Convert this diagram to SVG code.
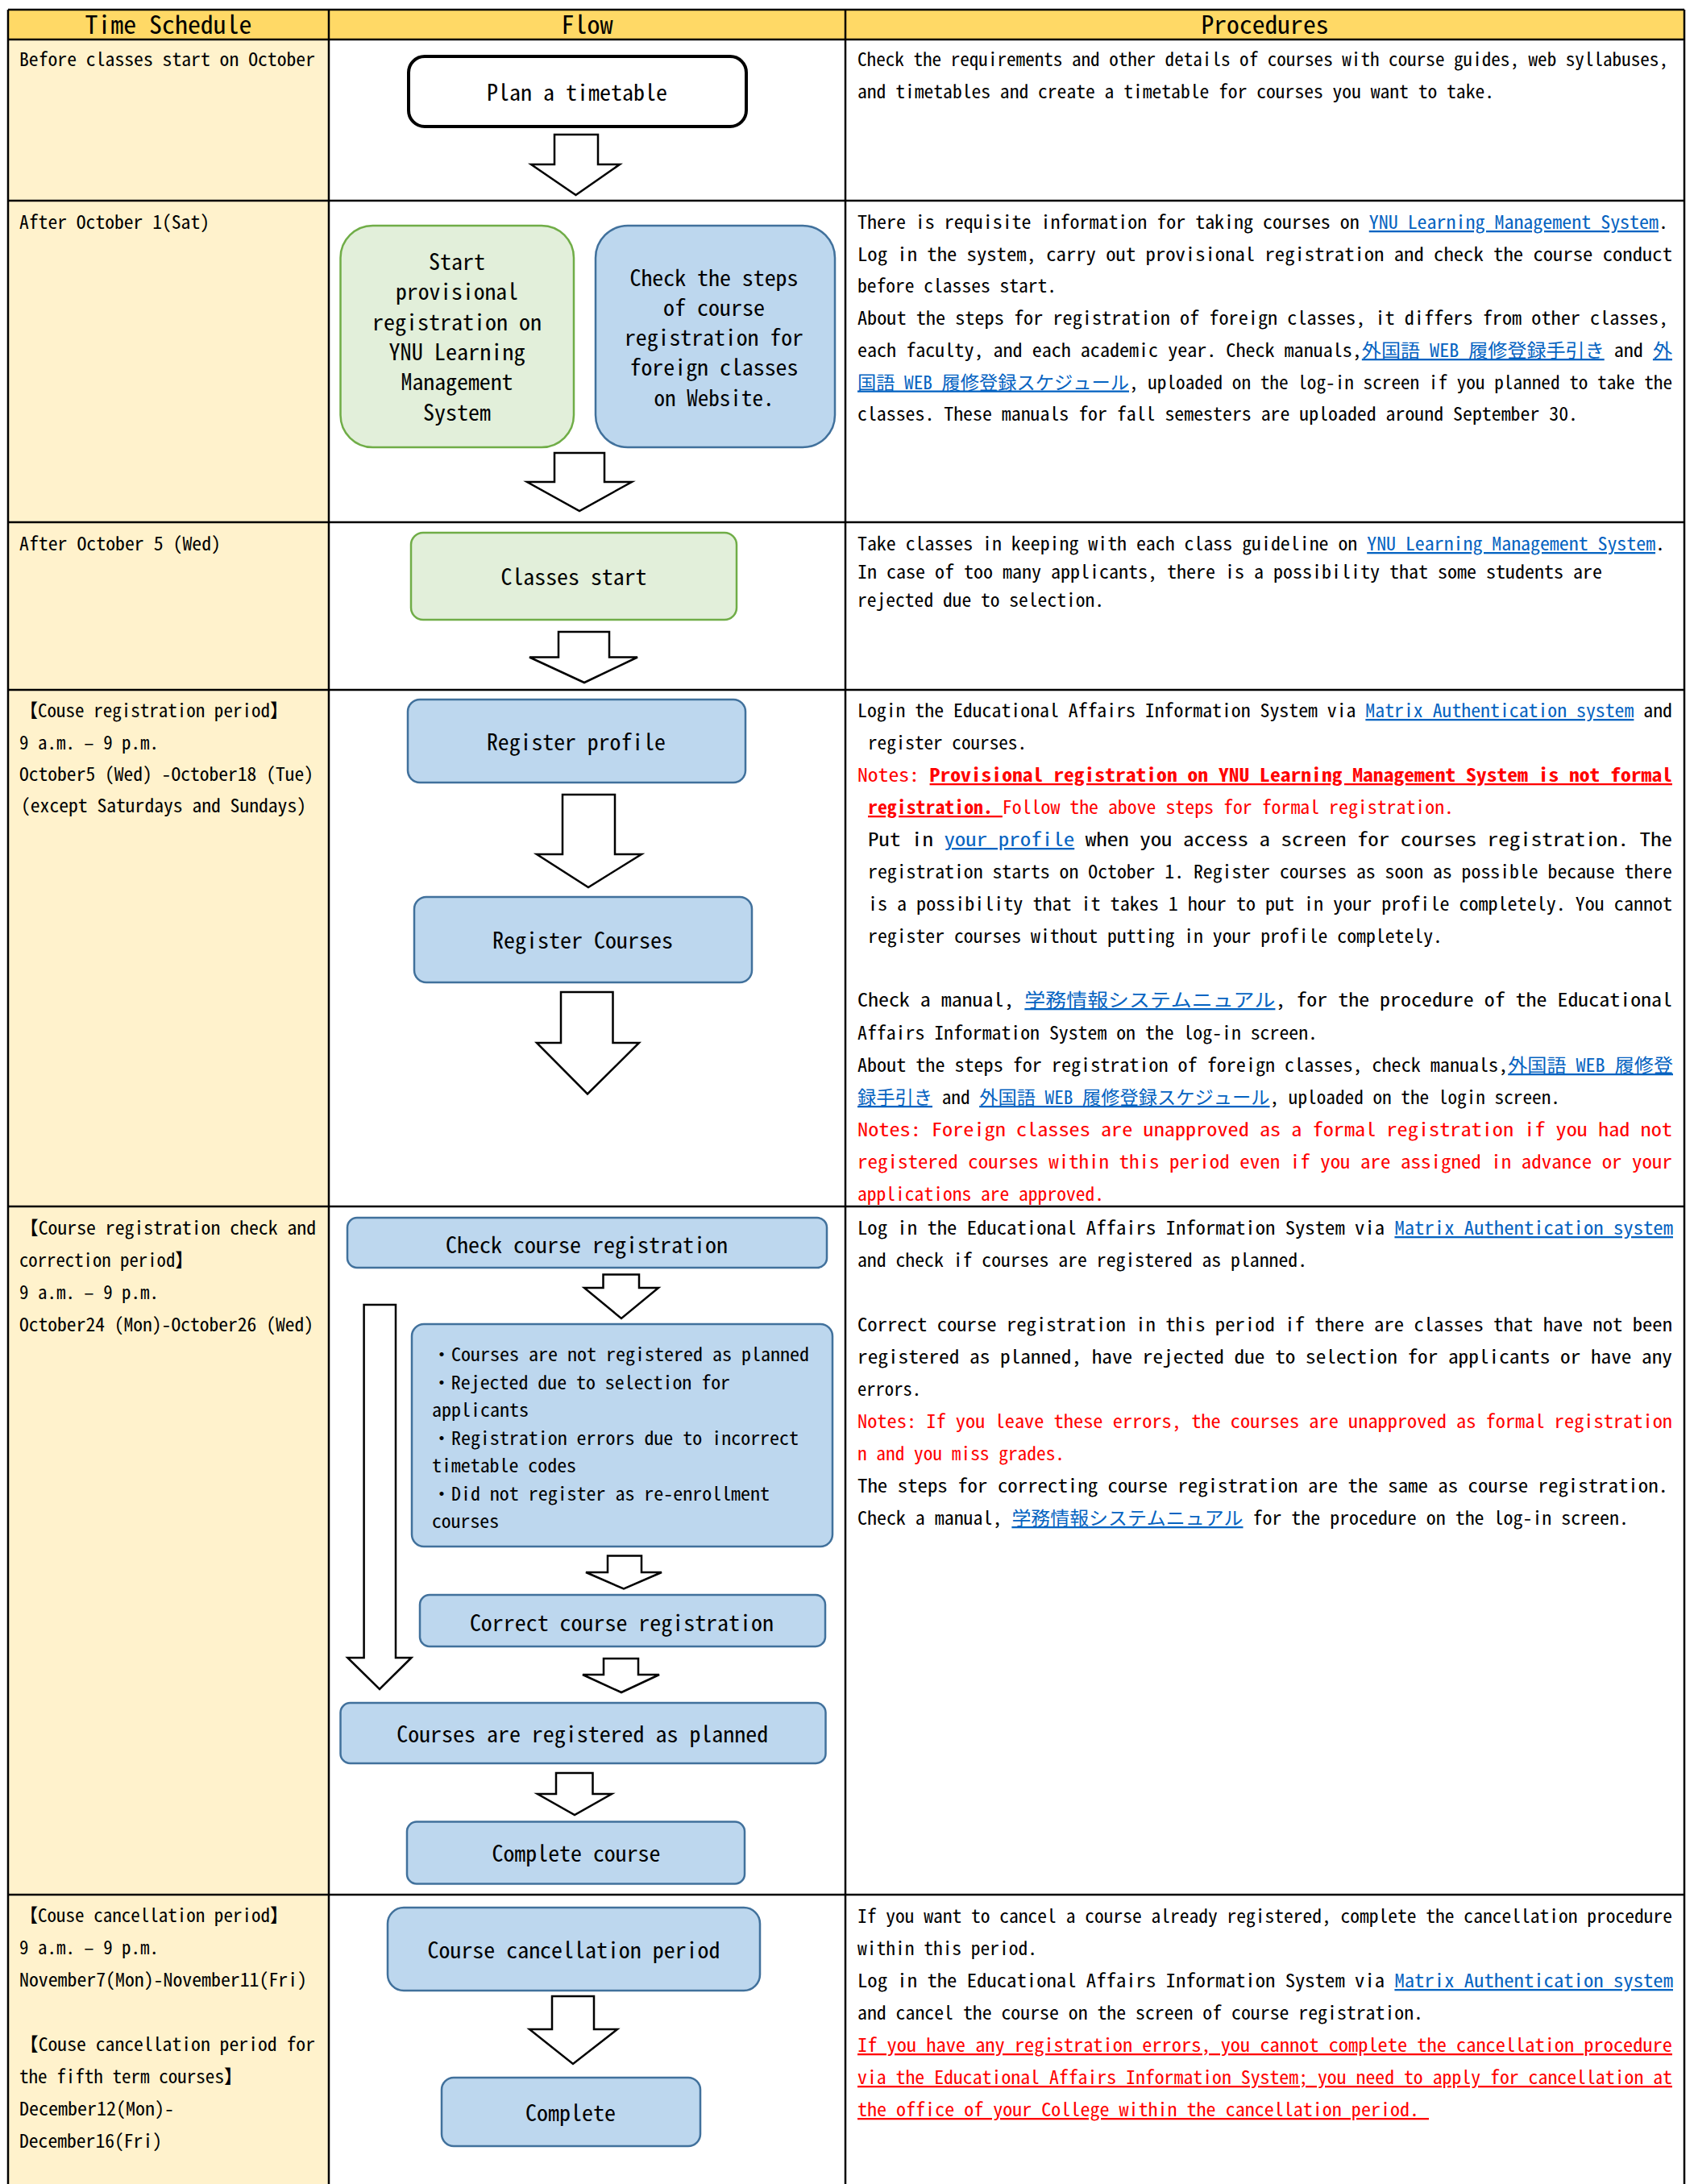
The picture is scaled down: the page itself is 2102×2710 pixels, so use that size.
<svg xmlns="http://www.w3.org/2000/svg" width="2102" height="2710" viewBox="0 0 2102 2710">
<style>
text{font-family:'Noto Sans Mono CJK JP','DejaVu Sans Condensed','DejaVu Sans','Noto Sans CJK JP',monospace;fill:#000}
.t{font-size:23px}
.n{font-size:28px;text-anchor:middle}
.h{font-size:31px;text-anchor:middle}
.lk{fill:#0563C1;text-decoration:underline}
.rd{fill:#FF0000}
.b{font-weight:bold}
.u{text-decoration:underline}
.arr{fill:#fff;stroke:#000;stroke-width:2.5;stroke-linejoin:miter}
.blue{fill:#BDD7EE;stroke:#41719C;stroke-width:2.5}
.green{fill:#E2EFDA;stroke:#70AD47;stroke-width:2.5}
.plain{fill:#fff;stroke:#000;stroke-width:4}
.grid{stroke:#000;stroke-width:2.5;fill:none}
</style>
<rect width="2102" height="2710" fill="#fff"/>
<g id="table">
<rect x="10" y="12" width="2080" height="37" fill="#FFD966"/>
<rect x="10" y="49" width="398" height="2661" fill="#FFF2CC"/>
<path class="grid" d="M10 12H2090M10 49H2090M10 249H2090M10 648H2090M10 856H2090M10 1497H2090M10 2351H2090M10 12V2710M408 12V2710M1049 12V2710M2090 12V2710"/>
<text class="h" x="209" y="42" textLength="207" lengthAdjust="spacingAndGlyphs">Time Schedule</text>
<text class="h" x="728.5" y="42" textLength="64" lengthAdjust="spacingAndGlyphs">Flow</text>
<text class="h" x="1569.5" y="42" textLength="158" lengthAdjust="spacingAndGlyphs">Procedures</text>
</g>
<g id="schedule">
<text class="t" x="24" y="82" textLength="367" lengthAdjust="spacingAndGlyphs">Before classes start on October</text>
<text class="t" x="24" y="284" textLength="236" lengthAdjust="spacingAndGlyphs">After October 1(Sat)</text>
<text class="t" x="24" y="683" textLength="250" lengthAdjust="spacingAndGlyphs">After October 5 (Wed)</text>
<text class="t" x="24" y="890" textLength="334" lengthAdjust="spacingAndGlyphs">【Couse registration period】</text>
<text class="t" x="24" y="930" textLength="173" lengthAdjust="spacingAndGlyphs">9 a.m. – 9 p.m.</text>
<text class="t" x="24" y="969" textLength="365" lengthAdjust="spacingAndGlyphs">October5 (Wed) -October18 (Tue)</text>
<text class="t" x="26" y="1008" textLength="354" lengthAdjust="spacingAndGlyphs">(except Saturdays and Sundays)</text>
<text class="t" x="24" y="1532" textLength="368" lengthAdjust="spacingAndGlyphs">【Course registration check and</text>
<text class="t" x="24" y="1572" textLength="216" lengthAdjust="spacingAndGlyphs">correction period】</text>
<text class="t" x="24" y="1612" textLength="173" lengthAdjust="spacingAndGlyphs">9 a.m. – 9 p.m.</text>
<text class="t" x="24" y="1652" textLength="365" lengthAdjust="spacingAndGlyphs">October24 (Mon)-October26 (Wed)</text>
<text class="t" x="24" y="2385" textLength="334" lengthAdjust="spacingAndGlyphs">【Couse cancellation period】</text>
<text class="t" x="24" y="2425" textLength="173" lengthAdjust="spacingAndGlyphs">9 a.m. – 9 p.m.</text>
<text class="t" x="24" y="2465" textLength="357" lengthAdjust="spacingAndGlyphs">November7(Mon)-November11(Fri)</text>
<text class="t" x="24" y="2545" textLength="367" lengthAdjust="spacingAndGlyphs">【Couse cancellation period for</text>
<text class="t" x="24" y="2585" textLength="277" lengthAdjust="spacingAndGlyphs">the fifth term courses】</text>
<text class="t" x="24" y="2625" textLength="192" lengthAdjust="spacingAndGlyphs">December12(Mon)-</text>
<text class="t" x="24" y="2665" textLength="177" lengthAdjust="spacingAndGlyphs">December16(Fri)</text>
</g>
<g id="connectors">
<polygon class="arr" points="688,167 742,167 742,204 769,204 714.5,242 659,204 688,204"/>
<polygon class="arr" points="688,562 750,562 750,598 784,598 719,634 654,598 688,598"/>
<polygon class="arr" points="693,784 756,784 756,815.5 791,815.5 725,847 657,815.5 693,815.5"/>
<polygon class="arr" points="698,986 763,986 763,1060 796,1060 730,1101 666,1060 698,1060"/>
<polygon class="arr" points="696,1231 760.5,1231 760.5,1294 793,1294 729,1357.5 666,1294 696,1294"/>
<polygon class="arr" points="748.5,1581.5 793,1581.5 793,1598 817,1598 771,1636 725,1598 748.5,1598"/>
<polygon class="arr" points="451.6,1619 491,1619 491,2057 510.4,2057 471,2096 431.3,2057 451.6,2057"/>
<polygon class="arr" points="754,1930.5 796,1930.5 796,1951 821,1951 774,1971.5 727,1951 754,1951"/>
<polygon class="arr" points="749,2058 792,2058 792,2078 818,2078 771,2100 723,2078 749,2078"/>
<polygon class="arr" points="690,2200 735.5,2200 735.5,2226 759,2226 713,2252 667,2226 690,2226"/>
<polygon class="arr" points="685,2477 737,2477 737,2518 766,2518 711,2561 657,2518 685,2518"/>
</g>
<g id="node-plan">
<rect class="plain" x="507" y="70" width="419" height="87" rx="20"/>
<text class="n" x="716" y="125" textLength="224" lengthAdjust="spacingAndGlyphs">Plan a timetable</text>
</g>
<g id="node-provisional">
<rect class="green" x="422.5" y="280" width="289.5" height="275" rx="40"/>
<text class="n" x="567" y="335" textLength="70" lengthAdjust="spacingAndGlyphs">Start</text>
<text class="n" x="567" y="372.3" textLength="152" lengthAdjust="spacingAndGlyphs">provisional</text>
<text class="n" x="567" y="409.6" textLength="210" lengthAdjust="spacingAndGlyphs">registration on</text>
<text class="n" x="567" y="446.9" textLength="169" lengthAdjust="spacingAndGlyphs">YNU Learning</text>
<text class="n" x="567" y="484.2" textLength="139" lengthAdjust="spacingAndGlyphs">Management</text>
<text class="n" x="567" y="521.5" textLength="84" lengthAdjust="spacingAndGlyphs">System</text>
</g>
<g id="node-foreign">
<rect class="blue" x="739" y="280" width="297" height="275" rx="40"/>
<text class="n" x="886" y="354.5" textLength="209" lengthAdjust="spacingAndGlyphs">Check the steps</text>
<text class="n" x="886" y="391.8" textLength="126" lengthAdjust="spacingAndGlyphs">of course</text>
<text class="n" x="886" y="429.1" textLength="222" lengthAdjust="spacingAndGlyphs">registration for</text>
<text class="n" x="886" y="466.4" textLength="209" lengthAdjust="spacingAndGlyphs">foreign classes</text>
<text class="n" x="886" y="503.7" textLength="149" lengthAdjust="spacingAndGlyphs">on Website.</text>
</g>
<g id="node-classes-start">
<rect class="green" x="510" y="661" width="404" height="108" rx="15"/>
<text class="n" x="712" y="726" textLength="181" lengthAdjust="spacingAndGlyphs">Classes start</text>
</g>
<g id="node-register-profile">
<rect class="blue" x="506" y="868" width="419" height="103" rx="15"/>
<text class="n" x="715" y="931" textLength="222" lengthAdjust="spacingAndGlyphs">Register profile</text>
</g>
<g id="node-register-courses">
<rect class="blue" x="514" y="1113" width="419" height="106" rx="15"/>
<text class="n" x="723" y="1177" textLength="224" lengthAdjust="spacingAndGlyphs">Register Courses</text>
</g>
<g id="node-check">
<rect class="blue" x="431" y="1511" width="595" height="62" rx="12"/>
<text class="n" x="728" y="1555" textLength="350" lengthAdjust="spacingAndGlyphs">Check course registration</text>
</g>
<g id="node-errors">
<rect class="blue" x="511" y="1643" width="522" height="276" rx="15"/>
<text class="t" x="536" y="1689" textLength="468" lengthAdjust="spacingAndGlyphs">・Courses are not registered as planned</text>
<text class="t" x="536" y="1723.5" textLength="370" lengthAdjust="spacingAndGlyphs">・Rejected due to selection for</text>
<text class="t" x="536" y="1758" textLength="120" lengthAdjust="spacingAndGlyphs">applicants</text>
<text class="t" x="536" y="1792.5" textLength="455" lengthAdjust="spacingAndGlyphs">・Registration errors due to incorrect</text>
<text class="t" x="536" y="1827" textLength="179" lengthAdjust="spacingAndGlyphs">timetable codes</text>
<text class="t" x="536" y="1861.5" textLength="419" lengthAdjust="spacingAndGlyphs">・Did not register as re-enrollment</text>
<text class="t" x="536" y="1896" textLength="83" lengthAdjust="spacingAndGlyphs">courses</text>
</g>
<g id="node-correct">
<rect class="blue" x="521" y="1979" width="503" height="64" rx="12"/>
<text class="n" x="771.4" y="2024" textLength="377" lengthAdjust="spacingAndGlyphs">Correct course registration</text>
</g>
<g id="node-registered">
<rect class="blue" x="422.5" y="2113" width="602" height="75" rx="12"/>
<text class="n" x="722.7" y="2162" textLength="461" lengthAdjust="spacingAndGlyphs">Courses are registered as planned</text>
</g>
<g id="node-complete-course">
<rect class="blue" x="505" y="2260.5" width="419" height="77" rx="12"/>
<text class="n" x="715" y="2310" textLength="209" lengthAdjust="spacingAndGlyphs">Complete course</text>
</g>
<g id="node-cancellation">
<rect class="blue" x="481" y="2367" width="462" height="103" rx="20"/>
<text class="n" x="712" y="2430" textLength="363" lengthAdjust="spacingAndGlyphs">Course cancellation period</text>
</g>
<g id="node-complete">
<rect class="blue" x="548" y="2578" width="321" height="85" rx="15"/>
<text class="n" x="708" y="2632" textLength="112" lengthAdjust="spacingAndGlyphs">Complete</text>
</g>
<g id="procedures">
<text class="t" x="1064" y="82" textLength="1006" lengthAdjust="spacingAndGlyphs">Check the requirements and other details of courses with course guides, web syllabuses,</text>
<text class="t" x="1064" y="122" textLength="790" lengthAdjust="spacingAndGlyphs">and timetables and create a timetable for courses you want to take.</text>

<text class="t" x="1064" y="284" textLength="1006" lengthAdjust="spacingAndGlyphs">There is requisite information for taking courses on <tspan class="lk">YNU Learning Management System</tspan>.</text>
<text class="t" x="1064" y="323.5" textLength="1011" lengthAdjust="spacingAndGlyphs">Log in the system, carry out provisional registration and check the course conduct</text>
<text class="t" x="1064" y="363" textLength="247" lengthAdjust="spacingAndGlyphs">before classes start.</text>
<text class="t" x="1064" y="403" textLength="1006" lengthAdjust="spacingAndGlyphs">About the steps for registration of foreign classes, it differs from other classes,</text>
<text class="t" x="1064" y="443" textLength="1011" lengthAdjust="spacingAndGlyphs">each faculty, and each academic year. Check manuals,<tspan class="lk">外国語 WEB 履修登録手引き</tspan> and <tspan class="lk">外</tspan></text>
<text class="t" x="1064" y="482.5" textLength="1011" lengthAdjust="spacingAndGlyphs"><tspan class="lk">国語 WEB 履修登録スケジュール</tspan>, uploaded on the log-in screen if you planned to take the</text>
<text class="t" x="1064" y="522" textLength="894" lengthAdjust="spacingAndGlyphs">classes. These manuals for fall semesters are uploaded around September 30.</text>

<text class="t" x="1064" y="683" textLength="1002" lengthAdjust="spacingAndGlyphs">Take classes in keeping with each class guideline on <tspan class="lk">YNU Learning Management System</tspan>.</text>
<text class="t" x="1064" y="718" textLength="924" lengthAdjust="spacingAndGlyphs">In case of too many applicants, there is a possibility that some students are</text>
<text class="t" x="1064" y="752.5" textLength="306" lengthAdjust="spacingAndGlyphs">rejected due to selection.</text>

<text class="t" x="1064" y="890" textLength="1011" lengthAdjust="spacingAndGlyphs">Login the Educational Affairs Information System via <tspan class="lk">Matrix Authentication system</tspan> and</text>
<text class="t" x="1077" y="930" textLength="197" lengthAdjust="spacingAndGlyphs">register courses.</text>
<text class="t rd" x="1064" y="970" textLength="1011" lengthAdjust="spacingAndGlyphs">Notes: <tspan class="rd b u">Provisional registration on YNU Learning Management System is not formal</tspan></text>
<text class="t rd" x="1077" y="1010" textLength="727" lengthAdjust="spacingAndGlyphs"><tspan class="rd b u">registration. </tspan>Follow the above steps for formal registration.</text>
<text class="t" x="1077" y="1050" textLength="998" lengthAdjust="spacingAndGlyphs">Put in <tspan class="lk">your profile</tspan> when you access a screen for courses registration. The</text>
<text class="t" x="1077" y="1090" textLength="998" lengthAdjust="spacingAndGlyphs">registration starts on October 1. Register courses as soon as possible because there</text>
<text class="t" x="1077" y="1130" textLength="998" lengthAdjust="spacingAndGlyphs">is a possibility that it takes 1 hour to put in your profile completely. You cannot</text>
<text class="t" x="1077" y="1169.5" textLength="713" lengthAdjust="spacingAndGlyphs">register courses without putting in your profile completely.</text>
<text class="t" x="1064" y="1249" textLength="1011" lengthAdjust="spacingAndGlyphs">Check a manual, <tspan class="lk">学務情報システムニュアル</tspan>, for the procedure of the Educational</text>
<text class="t" x="1064" y="1290" textLength="571" lengthAdjust="spacingAndGlyphs">Affairs Information System on the log-in screen.</text>
<text class="t" x="1064" y="1330" textLength="1012" lengthAdjust="spacingAndGlyphs">About the steps for registration of foreign classes, check manuals,<tspan class="lk">外国語 WEB 履修登</tspan></text>
<text class="t" x="1064" y="1370" textLength="872" lengthAdjust="spacingAndGlyphs"><tspan class="lk">録手引き</tspan> and <tspan class="lk">外国語 WEB 履修登録スケジュール</tspan>, uploaded on the login screen.</text>
<text class="t rd" x="1064" y="1410" textLength="1011" lengthAdjust="spacingAndGlyphs">Notes: Foreign classes are unapproved as a formal registration if you had not</text>
<text class="t rd" x="1064" y="1450" textLength="1011" lengthAdjust="spacingAndGlyphs">registered courses within this period even if you are assigned in advance or your</text>
<text class="t rd" x="1064" y="1490" textLength="306" lengthAdjust="spacingAndGlyphs">applications are approved.</text>

<text class="t" x="1064" y="1532" textLength="1012" lengthAdjust="spacingAndGlyphs">Log in the Educational Affairs Information System via <tspan class="lk">Matrix Authentication system</tspan></text>
<text class="t" x="1064" y="1572" textLength="558" lengthAdjust="spacingAndGlyphs">and check if courses are registered as planned.</text>
<text class="t" x="1064" y="1652" textLength="1011" lengthAdjust="spacingAndGlyphs">Correct course registration in this period if there are classes that have not been</text>
<text class="t" x="1064" y="1692" textLength="1011" lengthAdjust="spacingAndGlyphs">registered as planned, have rejected due to selection for applicants or have any</text>
<text class="t" x="1064" y="1732" textLength="79" lengthAdjust="spacingAndGlyphs">errors.</text>
<text class="t rd" x="1064" y="1772" textLength="1011" lengthAdjust="spacingAndGlyphs">Notes: If you leave these errors, the courses are unapproved as formal registration</text>
<text class="t rd" x="1064" y="1812" textLength="257" lengthAdjust="spacingAndGlyphs">n and you miss grades.</text>
<text class="t" x="1064" y="1852" textLength="1006" lengthAdjust="spacingAndGlyphs">The steps for correcting course registration are the same as course registration.</text>
<text class="t" x="1064" y="1892" textLength="957" lengthAdjust="spacingAndGlyphs">Check a manual, <tspan class="lk">学務情報システムニュアル</tspan> for the procedure on the log-in screen.</text>

<text class="t" x="1064" y="2386" textLength="1011" lengthAdjust="spacingAndGlyphs">If you want to cancel a course already registered, complete the cancellation procedure</text>
<text class="t" x="1064" y="2426" textLength="223" lengthAdjust="spacingAndGlyphs">within this period.</text>
<text class="t" x="1064" y="2466" textLength="1012" lengthAdjust="spacingAndGlyphs">Log in the Educational Affairs Information System via <tspan class="lk">Matrix Authentication system</tspan></text>
<text class="t" x="1064" y="2506" textLength="702" lengthAdjust="spacingAndGlyphs">and cancel the course on the screen of course registration.</text>
<text class="t rd u" x="1064" y="2546" textLength="1011" lengthAdjust="spacingAndGlyphs">If you have any registration errors, you cannot complete the cancellation procedure</text>
<text class="t rd u" x="1064" y="2586" textLength="1011" lengthAdjust="spacingAndGlyphs">via the Educational Affairs Information System; you need to apply for cancellation at</text>
<text class="t rd u" x="1064" y="2626" textLength="709" lengthAdjust="spacingAndGlyphs">the office of your College within the cancellation period.&#160;</text>
</g>
</svg>
